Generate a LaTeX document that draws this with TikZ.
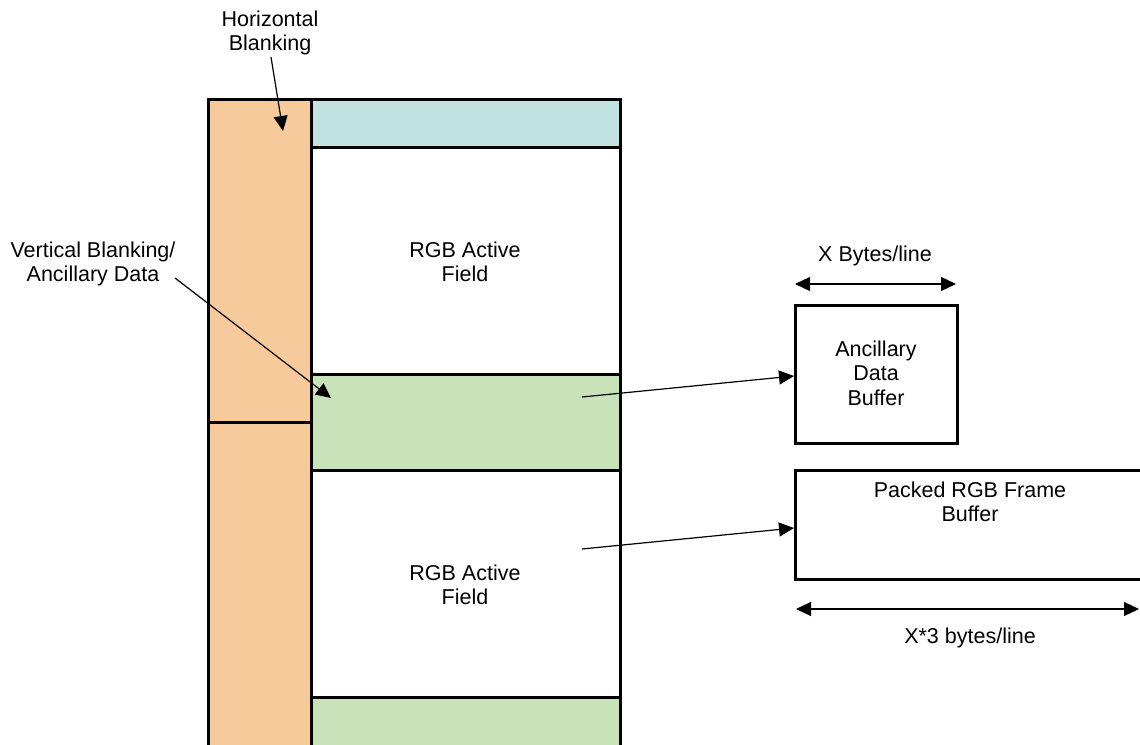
\documentclass[tikz,border=0pt]{standalone}
\usepackage{fontspec}
\setmainfont{Liberation Sans}
\usetikzlibrary{arrows.meta}
\definecolor{hborange}{HTML}{F7CA9B}
\definecolor{vbteal}{HTML}{C2E2E0}
\definecolor{ancgreen}{HTML}{C8E3B9}
\begin{document}
\begin{tikzpicture}[x=1pt,y=-1pt,
  blk/.style={draw=black,line width=3pt,inner sep=0pt,outer sep=0pt,anchor=north west},
  lbl/.style={align=center,inner sep=0pt,font=\fontsize{21.5}{24.5}\selectfont},
  ptr/.style={line width=1.2pt,-{Triangle[length=15pt,width=14pt]}},
  dim/.style={line width=1.2pt,{Triangle[length=15pt,width=14pt]}-{Triangle[length=15pt,width=14pt]}}]
\useasboundingbox (0,0) rectangle (1140,744);
\clip (0,0) rectangle (1140,744);
% left column
\node[blk,fill=hborange,minimum width=103pt,minimum height=323pt] (hb1) at (208,99) {};
\node[blk,fill=hborange,minimum width=103pt,minimum height=325pt] (hb2) at (208,422) {};
% right column
\node[blk,fill=vbteal,minimum width=309pt,minimum height=48pt] (vb) at (311,99) {};
\node[blk,fill=white,minimum width=309pt,minimum height=227pt] (af1) at (311,147) {};
\node[blk,fill=ancgreen,minimum width=309pt,minimum height=96pt] (anc1) at (311,374) {};
\node[blk,fill=white,minimum width=309pt,minimum height=227pt] (af2) at (311,470) {};
\node[blk,fill=ancgreen,minimum width=309pt,minimum height=50pt] (anc2) at (311,697) {};
\node[lbl] (t1) at (465,262) {RGB Active\\Field};
\node[lbl] (t2) at (465,585) {RGB Active\\Field};
% buffers
\node[blk,fill=white,minimum width=162pt,minimum height=138pt] (abuf) at (795,305) {};
\node[lbl] (abuft) at (876,373) {Ancillary\\Data\\Buffer};
\node[blk,fill=white,minimum width=380pt,minimum height=109pt] (pbuf) at (795,470) {};
\node[lbl] (pbuft) at (970,502) {Packed RGB Frame\\Buffer};
% labels
\node[lbl] (hbl) at (270,33) {Horizontal\\Blanking};
\node[lbl] (vbl) at (93,264) {Vertical Blanking/\\Ancillary Data};
\node[lbl] (xb) at (875,256) {X Bytes/line};
\node[lbl] (x3b) at (970,638) {X*3 bytes/line};
% pointer coordinates
\coordinate (hbs) at (271,57);
\coordinate (hbe) at (283,131);
\coordinate (vbs) at (175,278);
\coordinate (vbe) at (331,398);
\coordinate (as) at (582,397);
\coordinate (ae) at (794,376);
\coordinate (ps) at (582,549);
\coordinate (pe) at (794,528);
\coordinate (d1a) at (795,284);
\coordinate (d1b) at (956,284);
\coordinate (d2a) at (796,609);
\coordinate (d2b) at (1139,609);
\draw[ptr] (hbs) -- (hbe);
\draw[ptr] (vbs) -- (vbe);
\draw[ptr] (as) -- (ae);
\draw[ptr] (ps) -- (pe);
\draw[dim] (d1a) -- (d1b);
\draw[dim] (d2a) -- (d2b);
\end{tikzpicture}
\end{document}
